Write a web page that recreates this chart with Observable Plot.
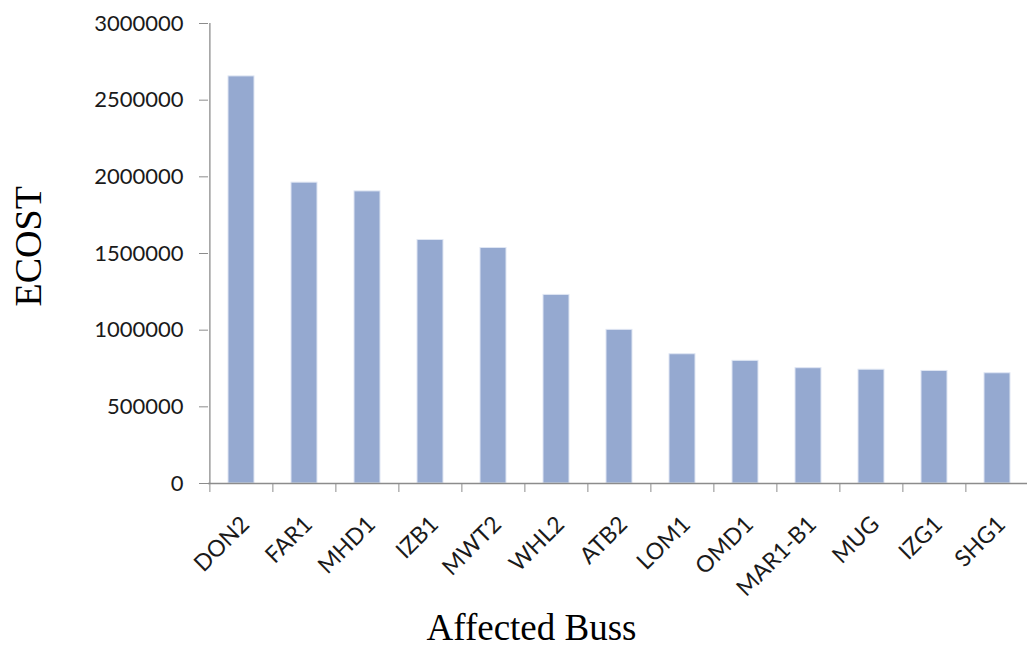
<!DOCTYPE html>
<html>
<head>
<meta charset="utf-8">
<script src="https://cdn.jsdelivr.net/npm/d3@7"></script>
<script src="https://cdn.jsdelivr.net/npm/@observablehq/plot@0.6"></script>
<style>
  html, body { margin: 0; padding: 0; background: #fff; }
  #chart svg { display: block; }
</style>
</head>
<body>
<div id="chart"></div>
<script>
// Expected cost of outages per affected bus
const buses = ["DON2", "FAR1", "MHD1", "IZB1", "MWT2", "WHL2", "ATB2", "LOM1", "OMD1", "MAR1-B1", "MUG", "IZG1", "SHG1"];
const ecost = [2655000, 1962000, 1905000, 1588000, 1536000, 1230000, 1002000, 843000, 800000, 752000, 742000, 734000, 719000];
const yTicks = [0, 500000, 1000000, 1500000, 2000000, 2500000, 3000000];

const rows = buses.map((bus, i) => ({bus, ecost: ecost[i]}));

const width = 1027, height = 648;
const marginLeft = 208, marginRight = -3, marginTop = 23, marginBottom = 165;
const step = (width - marginLeft - marginRight) / buses.length;

const axisGray = "#8c8c8c";
const labelColor = "#1a1a1a";
const sans = "Lato, 'Open Sans', sans-serif";
const serif = "'Liberation Serif', 'Times New Roman', serif";

const chart = Plot.plot({
  width, height, marginLeft, marginRight, marginTop, marginBottom,
  style: {background: "#fff", overflow: "visible"},
  x: {domain: buses, paddingInner: 0.59, paddingOuter: 0.295, axis: null},
  y: {domain: [0, 3000000], axis: null},
  marks: [
    // bars
    Plot.barY(rows, {x: "bus", y: "ecost", fill: "#95a9d0", stroke: "#dfe6f3", strokeWidth: 1}),
    // value axis: line, ticks, labels
    Plot.ruleX([buses[0]], {dx: -step / 2, stroke: axisGray, strokeWidth: 1.3}),
    Plot.axisY({
      ticks: yTicks, tickSize: 9, tickPadding: 16, tickFormat: d3.format("d"),
      stroke: axisGray, fill: labelColor, fontSize: 22, fontFamily: sans, label: null
    }),
    // category axis: baseline and boundary ticks
    Plot.ruleY([0], {stroke: axisGray, strokeWidth: 1.3}),
    Plot.axisX({tickSize: 9, tickFormat: () => "", dx: -step / 2, stroke: axisGray, label: null}),
    Plot.axisX({ticks: [buses[buses.length - 1]], tickSize: 9, tickFormat: () => "", dx: step / 2, stroke: axisGray, label: null}),
    // rotated category labels
    Plot.text(buses, {
      x: d => d, frameAnchor: "bottom", dy: 37, dx: 4, rotate: -45,
      textAnchor: "end", lineAnchor: "middle",
      fill: labelColor, fontSize: 23, fontFamily: sans
    }),
    // axis titles
    Plot.text(["ECOST"], {
      frameAnchor: "left", dx: -180, dy: 53, rotate: -90, lineAnchor: "middle",
      fill: "#000", fontSize: 38, fontFamily: serif
    }),
    Plot.text(["Affected Buss"], {
      frameAnchor: "bottom", dx: -88, dy: 145, lineAnchor: "middle",
      fill: "#000", fontSize: 37, fontFamily: serif
    })
  ]
});

document.getElementById("chart").append(chart);
</script>
</body>
</html>
